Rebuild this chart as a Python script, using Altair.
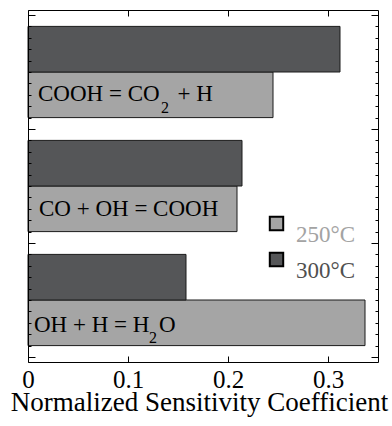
import altair as alt
import pandas as pd

# Sensitivity of the rate to three elementary reactions at two temperatures
reactions = ["COOH = CO2 + H", "CO + OH = COOH", "OH + H = H2O"]
temps = ["250", "300"]
coef_250 = [0.245, 0.209, 0.337]
coef_300 = [0.312, 0.214, 0.158]

# reaction labels split into normal / subscript / normal pieces
label_parts = [["COOH = CO", "2", "+ H"], ["CO + OH = COOH"], ["OH + H = H", "2", "O"]]
x_ticks = [0, 0.1, 0.2, 0.3]
y_ticks = [round(i * 0.1, 1) for i in range(31)]

SERIF = "'Liberation Serif', 'Times New Roman', Times, 'DejaVu Serif', serif"
LIGHT = "#a5a5a5"
DARK = "#555658"

rows = []
for g, r in enumerate(reactions):
    rows.append({"reaction": r, "g": g, "temp": "250", "coef": coef_250[g]})
    rows.append({"reaction": r, "g": g, "temp": "300", "coef": coef_300[g]})
bars_df = pd.DataFrame(rows)

piece_rows = []
for g, parts in enumerate(label_parts):
    for k, t in enumerate(parts):
        piece_rows.append({"g": g, "k": k, "piece": t})
pieces_df = pd.DataFrame(piece_rows)

x_scale = alt.Scale(domain=[0, 0.35], nice=False, zero=True)
y_scale = alt.Scale(domain=[0, 3], reverse=True, nice=False, zero=False)

# inward ticks: long at group boundaries, short in between
y_tick_len = {"expr": "abs(datum.value - round(datum.value)) < 0.01 ? -7 : -3"}


def y_frame_axis(orient):
    return alt.Axis(orient=orient, values=y_ticks, labels=False, title=None,
                    tickSize=y_tick_len, tickColor="black", tickWidth=1,
                    domainColor="black", domainWidth=1, grid=False, zindex=1)


bottom_axis = alt.Axis(
    orient="bottom", values=x_ticks, format="~g", labelFlush=False,
    labelFont=SERIF, labelFontSize=25, labelColor="black", labelPadding=11,
    tickSize={"expr": "-6"}, tickColor="black", tickWidth=1,
    domainColor="black", domainWidth=1, grid=False, zindex=1,
    title="Normalized Sensitivity Coefficient", titleFont=SERIF,
    titleFontSize=27, titleFontWeight="normal", titleColor="black",
    titleBaseline="alphabetic", titleX=171, titleY=48,
)
top_axis = alt.Axis(
    orient="top", values=x_ticks, labels=False, title=None,
    tickSize={"expr": "-6"}, tickColor="black", tickWidth=1,
    domainColor="black", domainWidth=1, grid=False, zindex=1,
)

legend = alt.Legend(
    title=None, orient="none", legendX=237, legendY=202,
    symbolType="square", symbolSize=180, symbolStrokeColor="black",
    symbolStrokeWidth=2, symbolOpacity=1, rowPadding=1, labelOffset=8,
    labelFont=SERIF, labelFontSize=23, labelExpr="datum.label + '°C'",
    labelBaseline="top",
    labelColor={"expr": "datum.value === '250' ? '#a3a3a3' : '#505050'"},
)

bars = alt.Chart(bars_df).transform_calculate(
    base="0",
    lo="datum.g + (datum.temp === '300' ? 0.1 : 0.5)",
    hi="datum.g + (datum.temp === '300' ? 0.5 : 0.9)",
).mark_bar(stroke="#1a1a1a", strokeWidth=1, orient="horizontal").encode(
    x=alt.X("base:Q", scale=x_scale, axis=bottom_axis),
    x2="coef:Q",
    y=alt.Y("lo:Q", scale=y_scale, axis=y_frame_axis("left")),
    y2="hi:Q",
    color=alt.Color("temp:N", scale=alt.Scale(domain=temps, range=[LIGHT, DARK]),
                    legend=legend),
)

frame = alt.Chart(bars_df).mark_point(opacity=0).encode(
    x=alt.X("coef:Q", scale=x_scale, axis=top_axis),
    y=alt.Y("g:Q", scale=y_scale, axis=y_frame_axis("right")),
)

# (group, piece) -> dx, dy, font size
piece_style = {
    (0, 0): (10, 6, 23), (0, 1): (133, 17.7, 16), (0, 2): (149.5, 6, 23),
    (1, 0): (11, 7.5, 23),
    (2, 0): (6, 9.5, 23), (2, 1): (121, 20.5, 16), (2, 2): (131, 9.5, 23),
}

texts = []
for (g, k), (dx, dy, fs) in piece_style.items():
    texts.append(
        alt.Chart(pieces_df).transform_filter(
            f"datum.g === {g} && datum.k === {k}"
        ).transform_calculate(x0="0", yc="datum.g + 0.7").mark_text(
            align="left", baseline="alphabetic", dx=dx, dy=dy,
            font=SERIF, fontSize=fs, color="black",
        ).encode(
            x=alt.X("x0:Q", scale=x_scale, axis=None),
            y=alt.Y("yc:Q", scale=y_scale, axis=None),
            text="piece:N",
        )
    )

chart = alt.layer(bars, frame, *texts).resolve_axis(
    x="independent", y="independent"
).properties(
    width=350, height=352,
    autosize=alt.AutoSizeParams(type="none"),
    padding={"left": 28, "top": 10, "right": 14, "bottom": 64},
    background="white",
).configure_view(stroke=None)

chart.save("out.html", embed_options={"renderer": "svg", "actions": False})
